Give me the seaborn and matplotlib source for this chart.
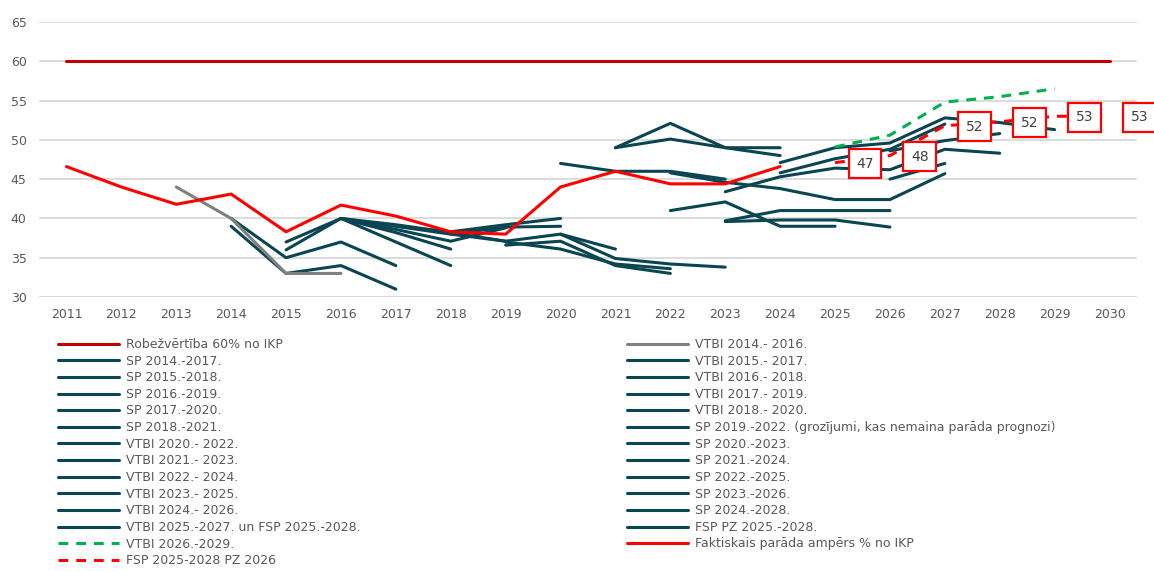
import numpy as np
import pandas as pd
import seaborn as sns
import matplotlib.pyplot as plt
from matplotlib.lines import Line2D

# ---- data ----
years = list(range(2011, 2031))
limit_value = 60

actual_years = [2011, 2012, 2013, 2014, 2015, 2016, 2017, 2018, 2019, 2020, 2021, 2022, 2023, 2024]
actual_vals = [46.6, 44.0, 41.8, 43.1, 38.3, 41.7, 40.3, 38.3, 38.0, 44.0, 46.0, 44.4, 44.4, 46.6]

gray_years = [2013, 2014, 2015, 2016]
gray_vals = [44.0, 40.0, 33.0, 33.0]

green_years = [2025, 2026, 2027, 2028, 2029]
green_vals = [49.1, 50.6, 54.8, 55.5, 56.5]

fsp_years = [2025, 2026, 2027, 2028, 2029, 2030]
fsp_vals = [47.1, 48.0, 51.8, 52.3, 53.0, 53.0]

# forecast vintages (all drawn in the same dark teal)
teal_series = {
    "SP 2014.-2017.": ([2014, 2015, 2016, 2017], [39.0, 33.0, 34.0, 31.0]),
    "VTBI 2015.- 2017.": ([2014, 2015, 2016, 2017], [40.0, 35.0, 37.0, 34.0]),
    "SP 2015.-2018.": ([2015, 2016, 2017, 2018], [37.0, 40.0, 38.2, 36.1]),
    "VTBI 2016.- 2018.": ([2015, 2016, 2017, 2018], [36.0, 40.0, 37.0, 34.0]),
    "SP 2016.-2019.": ([2016, 2017, 2018, 2019], [40.0, 39.2, 38.2, 37.1]),
    "VTBI 2017.- 2019.": ([2016, 2017, 2018, 2019], [40.0, 38.6, 37.1, 38.8]),
    "SP 2017.-2020.": ([2016, 2017, 2018, 2019, 2020], [40.0, 39.0, 38.3, 39.2, 40.0]),
    "VTBI 2018.- 2020.": ([2017, 2018, 2019, 2020], [39.0, 38.0, 38.9, 39.0]),
    "SP 2018.-2021.": ([2018, 2019, 2020, 2021], [38.0, 37.1, 38.0, 36.1]),
    "SP 2019.-2022. (grozījumi, kas nemaina parāda prognozi)": ([2019, 2020, 2021, 2022], [36.6, 37.1, 34.0, 33.0]),
    "VTBI 2020.- 2022.": ([2019, 2020, 2021, 2022], [37.0, 36.1, 34.2, 33.6]),
    "SP 2020.-2023.": ([2020, 2021, 2022, 2023], [38.0, 34.9, 34.2, 33.8]),
    "VTBI 2021.- 2023.": ([2020, 2021, 2022, 2023], [47.0, 46.0, 46.0, 45.0]),
    "SP 2021.-2024.": ([2021, 2022, 2023, 2024], [49.0, 52.1, 49.0, 48.0]),
    "VTBI 2022.- 2024.": ([2021, 2022, 2023, 2024], [49.0, 50.1, 49.0, 49.0]),
    "SP 2022.-2025.": ([2022, 2023, 2024, 2025, 2026, 2027], [45.8, 44.6, 43.8, 42.4, 42.4, 45.7]),
    "VTBI 2023.- 2025.": ([2022, 2023, 2024, 2025], [41.0, 42.1, 39.0, 39.0]),
    "SP 2023.-2026.": ([2023, 2024, 2025, 2026], [39.7, 41.0, 41.0, 41.0]),
    "VTBI 2024.- 2026.": ([2023, 2024, 2025, 2026], [39.6, 39.8, 39.8, 38.9]),
    "SP 2024.-2028.": ([2023, 2024, 2025, 2026, 2027, 2028], [43.4, 45.3, 46.4, 46.2, 48.8, 48.3]),
    "VTBI 2025.-2027. un FSP 2025.-2028.": ([2024, 2025, 2026, 2027], [45.8, 47.6, 48.8, 52.0]),
    "FSP PZ 2025.-2028.": ([2024, 2025, 2026, 2027, 2028, 2029], [47.1, 49.0, 49.6, 52.8, 52.2, 51.3]),
}
extra_segments = [
    ([2026, 2027], [45.0, 47.0]),
    ([2026, 2027, 2028], [48.6, 49.9, 50.8]),
]

left_labels = ["Robežvērtība 60% no IKP", "SP 2014.-2017.", "SP 2015.-2018.", "SP 2016.-2019.",
               "SP 2017.-2020.", "SP 2018.-2021.", "VTBI 2020.- 2022.", "VTBI 2021.- 2023.",
               "VTBI 2022.- 2024.", "VTBI 2023.- 2025.", "VTBI 2024.- 2026.",
               "VTBI 2025.-2027. un FSP 2025.-2028.", "VTBI 2026.-2029.", "FSP 2025-2028 PZ 2026"]
right_labels = ["VTBI 2014.- 2016.", "VTBI 2015.- 2017.", "VTBI 2016.- 2018.", "VTBI 2017.- 2019.",
                "VTBI 2018.- 2020.", "SP 2019.-2022. (grozījumi, kas nemaina parāda prognozi)",
                "SP 2020.-2023.", "SP 2021.-2024.", "SP 2022.-2025.", "SP 2023.-2026.",
                "SP 2024.-2028.", "FSP PZ 2025.-2028.", "Faktiskais parāda ampērs % no IKP"]

# ---- style ----
TEAL = "#0A4652"
DARKRED = "#C00000"
RED = "#FF0000"
GREEN = "#00B050"
GRAY = "#808080"
TXT = "#595959"
LW = 2.2

sns.set_theme(style="white")
plt.rcParams["font.family"] = ["DejaVu Sans"]

fig = plt.figure(figsize=(11.54, 5.71), dpi=100)
W, H = 1154, 571
ax = fig.add_axes([39 / W, 1 - 297 / H, (1137 - 39) / W, (297 - 22) / H])

for name, (xs, vs) in teal_series.items():
    sns.lineplot(x=xs, y=vs, ax=ax, color=TEAL, lw=LW, sort=False, estimator=None)
for xs, vs in extra_segments:
    sns.lineplot(x=xs, y=vs, ax=ax, color=TEAL, lw=LW, sort=False, estimator=None)

sns.lineplot(x=gray_years, y=gray_vals, ax=ax, color=GRAY, lw=LW, sort=False, estimator=None)
sns.lineplot(x=years, y=[limit_value] * len(years), ax=ax, color=DARKRED, lw=LW,
             sort=False, estimator=None)
sns.lineplot(x=actual_years, y=actual_vals, ax=ax, color=RED, lw=LW, sort=False, estimator=None)

sns.lineplot(x=green_years, y=green_vals, ax=ax, color=GREEN, lw=LW, sort=False, estimator=None)
ax.lines[-1].set_dashes([3.2, 2.6])
sns.lineplot(x=fsp_years, y=fsp_vals, ax=ax, color=RED, lw=LW, sort=False, estimator=None)
ax.lines[-1].set_dashes([3.2, 2.6])

for x, v in zip(fsp_years, fsp_vals):
    ax.annotate(f"{v:.0f}", (x, v), xytext=(30, -1), textcoords="offset pixels",
                ha="center", va="center", fontsize=10, color="#404040",
                bbox=dict(boxstyle="square,pad=0.55", fc="white", ec=RED, lw=1.6),
                annotation_clip=False, zorder=6)

ax.set_xlim(2010.5, 2030.5)
ax.set_ylim(30, 65)
ax.set_xticks(years)
ax.set_xticklabels([str(y) for y in years])
ax.set_yticks(range(30, 70, 5))
ax.yaxis.grid(True, color="#D9D9D9", lw=1.3)
ax.xaxis.grid(False)
ax.set_axisbelow(True)
for s in ax.spines.values():
    s.set_visible(False)
ax.tick_params(axis="both", length=0, labelsize=9, labelcolor=TXT)
ax.tick_params(axis="y", pad=9)
ax.tick_params(axis="x", pad=8)
ax.set_xlabel("")
ax.set_ylabel("")

# ---- legend in two columns ----
def handle(label):
    if label == "Robežvērtība 60% no IKP":
        return Line2D([], [], color=DARKRED, lw=LW)
    if label == "Faktiskais parāda ampērs % no IKP":
        return Line2D([], [], color=RED, lw=LW)
    if label == "VTBI 2014.- 2016.":
        return Line2D([], [], color=GRAY, lw=LW)
    if label == "VTBI 2026.-2029.":
        return Line2D([], [], color=GREEN, lw=LW, dashes=[3.2, 2.6])
    if label == "FSP 2025-2028 PZ 2026":
        return Line2D([], [], color=RED, lw=LW, dashes=[3.2, 2.6])
    return Line2D([], [], color=TEAL, lw=LW)

leg_kw = dict(frameon=False, fontsize=9, labelcolor=TXT, handlelength=4.9, handletextpad=0.55,
              labelspacing=0.29, borderpad=0, borderaxespad=0, loc="upper left")
fig.legend([handle(l) for l in left_labels], left_labels,
           bbox_to_anchor=(58 / W, 1 - 338 / H), **leg_kw)
fig.legend([handle(l) for l in right_labels], right_labels,
           bbox_to_anchor=(627 / W, 1 - 338 / H), **leg_kw)

fig.savefig("out.png", dpi=100)
plt.close(fig)
